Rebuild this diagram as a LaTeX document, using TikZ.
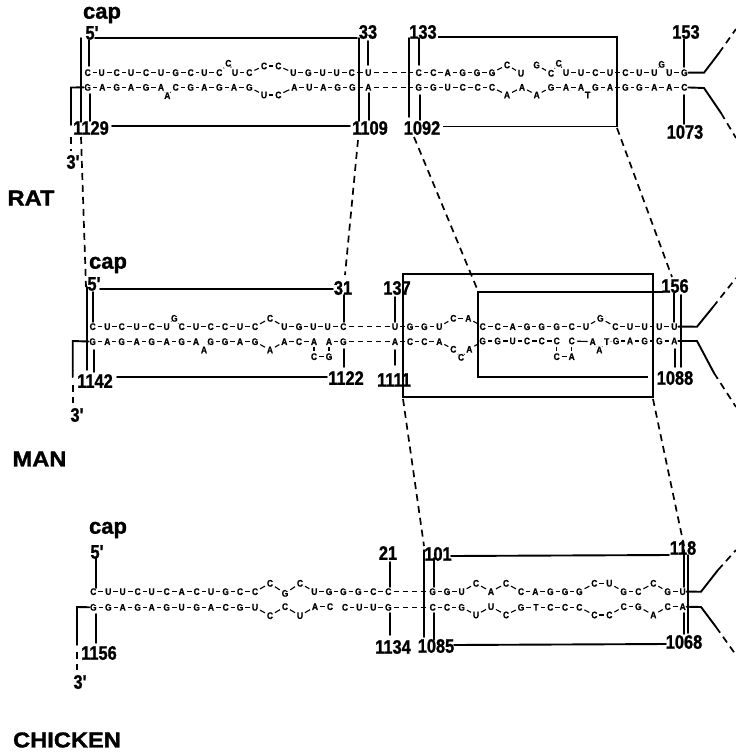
\documentclass[tikz,border=0pt]{standalone}
\usepackage{fontspec}
\setmainfont{Liberation Sans}
\newfontfamily\labf{Liberation Sans}[BoldFeatures={FakeStretch=0.84,FakeBold=1.2}]
\newfontfamily\capf{Liberation Sans}[BoldFeatures={FakeBold=1.2}]
\newfontfamily\hdf{Liberation Sans}[BoldFeatures={FakeStretch=1.1,FakeBold=1.4}]
\newfontfamily\ntf{Liberation Sans}[BoldFeatures={FakeStretch=0.88,FakeBold=0.8}]
\tikzset{
  nt/.style={font=\ntf\bfseries\fontsize{9.6}{10}\selectfont,inner sep=0.7pt,anchor=center},
  lk/.style={line width=1.1pt,shorten >=1.2pt,shorten <=1.2pt},
  lab/.style={font=\labf\bfseries\fontsize{19.5}{20}\selectfont,inner sep=0pt,anchor=center},
  capl/.style={font=\capf\bfseries\fontsize{22}{22}\selectfont,inner sep=0pt,anchor=center},
  spc/.style={font=\hdf\bfseries\fontsize{21.5}{22}\selectfont,inner sep=0pt,anchor=center},
  ln/.style={line width=1.9pt,line cap=round},
  bx/.style={line width=1.9pt,line join=miter},
  dsh/.style={line width=1.7pt,dash pattern=on 7pt off 5pt},
  hdsh/.style={line width=1.2pt,dash pattern=on 5pt off 4pt,shorten >=1.5pt,shorten <=1.5pt}
}
\newcommand\strand[4]{%
  \foreach \xx/\yy/\nn [count=\ii] in {#4}{%
    \node[nt] (#1\ii) at ({#2+\xx/3},{#3+\yy/3}) {\nn};
    \ifnum\ii>1 \pgfmathtruncatemacro\prevn{\ii-1}\draw[lk] (#1\prevn) -- (#1\ii);\fi
  }}
\newcommand\seg[5]{%
  \coordinate (#1a) at (#2,#3); \coordinate (#1b) at (#4,#5);
  \draw[ln] (#1a) -- (#1b);}
\begin{document}
\begin{tikzpicture}[x=1pt,y=-1pt]
\useasboundingbox (0,0) rectangle (736,755);

% ================= RAT =================
\strand{ra}{60}{0}{83/218/C,125/218/U,170/218/C,213/218/U,258/218/C,303/218/U,347/218/G,392/218/C,433/218/U,478/218/C,505/190/C,525/218/U,568/218/C,612/198/C,655/198/C,700/218/U,745/218/G,788/218/U,830/218/U,875/218/C,925/218/U}
\strand{rb}{60}{0}{83/262/G,127/262/A,170/262/G,213/262/A,258/262/G,303/262/A,322/287/A,347/262/C,392/262/G,433/262/A,478/262/G,522/262/A,568/262/G,612/285/U,655/285/C,703/262/A,748/262/U,790/262/A,833/262/G,877/262/G,925/262/A}
\strand{rc}{396}{0}{68/218/C,112/218/C,155/218/A,200/218/G,243/218/G,288/218/G,333/195/C,375/220/U}
\strand{rd}{396}{0}{422/195/G,465/220/C,488/190/C,510/218/U,555/218/U,598/218/C,642/218/U,688/218/C,730/218/U,775/218/U,797/193/G,820/218/U,865/218/G}
\strand{re}{396}{0}{68/262/G,112/262/G,155/262/U,200/262/C,245/262/C,288/262/C,333/285/A,378/262/A,422/285/A,465/262/G,510/262/A,555/262/A,575/285/T,598/262/G,642/262/A,688/262/G,730/262/G,775/262/A,820/262/A,865/262/C}
\draw[hdsh] (ra21) -- (rc1);
\draw[hdsh] (rb21) -- (re1);

\node[capl] (rcap) at (102,15) {cap};
\node[lab] (r5) at (92,33) {5'};
\node[lab] (r33) at (368,32) {33};
\node[lab] (r133) at (423,32) {133};
\node[lab] (r153) at (686,32) {153};
\node[lab] (r1129) at (91,128) {1129};
\node[lab] (r1109) at (370,128) {1109};
\node[lab] (r1092) at (422,128) {1092};
\node[lab] (r1073) at (685,132) {1073};
\node[lab] (r3) at (73,162) {3'};
\node[spc] (rat) at (31,198) {RAT};

\seg{r1}{80.7}{38}{80.7}{122}
\seg{r2}{89.3}{40}{89.3}{66}
\seg{r3l}{90}{94}{90}{121}
\seg{r4}{359}{38}{359}{121}
\seg{r5l}{368}{41}{368}{65}
\seg{r6}{369}{93}{369}{120}
\seg{r7}{409}{38}{409}{117}
\seg{r8}{419}{38}{419}{65}
\seg{r9}{420}{95}{420}{120}
\seg{r10}{684}{39}{684}{67}
\seg{r11}{684}{95}{684}{124}
\coordinate (rt1) at (95,37.7); \coordinate (rt2) at (357,37.7);
\draw[ln] (rt1) -- (rt2);
\coordinate (rb1c) at (112,126); \coordinate (rb2c) at (350,126);
\draw[ln] (rb1c) -- (rb2c);
\coordinate (rx1) at (438,37); \coordinate (rx2) at (617,37); \coordinate (rx3) at (617,126.5); \coordinate (rx4) at (443,126.5);
\draw[bx] (rx1) -- (rx2) -- (rx3) -- (rx4);
% 3' tail
\coordinate (rq1) at (71,87.5); \coordinate (rq2) at (71,125); \coordinate (rq3) at (71,137); \coordinate (rq4) at (71,151);
\draw[ln] (rb1) -- (rq1) -- (rq2);
\draw[dsh] (rq3) -- (rq4);
% exits
\coordinate (ru1) at (704,72.7); \coordinate (ru2) at (719,53); \coordinate (ru3) at (736,29);
\draw[ln] (rd13) -- (ru1) -- (ru2); \draw[dsh] (ru2) -- (ru3);
\coordinate (rv1) at (704,88); \coordinate (rv2) at (721,113); \coordinate (rv3) at (736,138);
\draw[ln] (re20) -- (rv1) -- (rv2); \draw[dsh] (rv2) -- (rv3);

% connectors rat -> man
\coordinate (c1a) at (81,137); \coordinate (c1b) at (86,287);
\draw[dsh] (c1a) -- (c1b);
\coordinate (c2a) at (358,140); \coordinate (c2b) at (345,275);
\draw[dsh] (c2a) -- (c2b);
\coordinate (c3a) at (414,137); \coordinate (c3b) at (478,291);
\draw[dsh] (c3a) -- (c3b);
\coordinate (c4a) at (617,128); \coordinate (c4b) at (672,277);
\draw[dsh] (c4a) -- (c4b);

% ================= MAN =================
\strand{ma}{60}{250}{98/230/C,142/230/U,185/230/C,230/230/U,275/230/C,320/230/U,343/205/G,365/230/C,408/230/U,452/230/C,495/230/C,540/230/U,585/230/C,630/205/C,673/230/U,717/230/G,760/230/U,803/230/U,850/230/C}
\strand{mb}{60}{250}{98/275/G,142/275/A,185/275/G,230/275/A,275/275/G,320/275/A,365/275/G,408/275/A,432/300/A,452/275/G,495/275/G,540/275/A,585/275/G,630/300/A,673/275/A,717/275/C,762/275/A}
\strand{mc}{60}{250}{807/275/A,850/275/G}
\strand{md}{60}{250}{762/320/C,807/320/G}
\draw[lk] (mb17) -- (md1);
\draw[lk] (mc1) -- (md2);
\strand{me}{396}{260}{-3/200/U,42/200/G,85/200/G,130/200/U,172/175/C,217/175/A,260/200/C,305/200/C,350/200/A,393/200/G,437/200/G,482/200/G,527/200/C,570/200/U,613/175/G,658/200/C,702/200/U,746/200/U,790/200/U,835/200/U}
\strand{mf}{396}{260}{-3/245/A,42/245/C,85/245/C,130/245/A,172/268/C,195/292/C,220/268/A,260/243/G,305/243/G,350/243/U,393/243/C,437/243/C,482/243/C}
\strand{mg}{396}{260}{527/243/C,590/245/A,610/270/A,632/245/T,660/243/G,702/243/A,746/243/G,790/243/G,835/243/A}
\strand{mh}{396}{260}{482/290/C,527/290/A}
\draw[lk] (mf13) -- (mh1);
\draw[lk] (mg1) -- (mh2);
\draw[hdsh] (ma19) -- (me1);
\draw[hdsh] (mc2) -- (mf1);

\node[capl] (mcap) at (108,265) {cap};
\node[lab] (m5) at (94,284) {5'};
\node[lab] (m31) at (343,288) {31};
\node[lab] (m137) at (397,288) {137};
\node[lab] (m156) at (675,286) {156};
\node[lab] (m1142) at (95,381) {1142};
\node[lab] (m1122) at (346,378) {1122};
\node[lab] (m1111) at (394,380) {1111};
\node[lab] (m1088) at (675,378) {1088};
\node[lab] (m3) at (77,415) {3'};
\node[spc] (man) at (39.5,459) {MAN};

\seg{m1}{86.7}{287}{86.7}{370}
\seg{m2}{93}{292}{93}{322}
\seg{m3l}{94}{350}{94}{372}
\seg{m4}{344}{295}{344}{322}
\seg{m5l}{344}{349}{344}{367}
\seg{m6}{395}{297}{395}{322}
\seg{m7}{395}{365}{395}{350}
\seg{m8}{674}{293}{674}{322}
\seg{m9}{681}{295}{681}{367}
\seg{m10}{675}{349}{675}{367}
\coordinate (mt1) at (100,289); \coordinate (mt2) at (333,289);
\draw[ln] (mt1) -- (mt2);
\coordinate (mt3) at (117,377); \coordinate (mt4) at (327,377);
\draw[ln] (mt3) -- (mt4);
% outer box
\coordinate (mo1) at (403,274); \coordinate (mo2) at (653,274); \coordinate (mo3) at (653,397); \coordinate (mo4) at (403,397);
\draw[bx] (mo1) -- (mo2) -- (mo3) -- (mo4) -- cycle;
% inner box
\coordinate (mi1) at (663,292); \coordinate (mi2) at (478,292); \coordinate (mi3) at (478,377); \coordinate (mi4) at (648,377);
\draw[bx] (mi1) -- (mi2) -- (mi3) -- (mi4);
% 3' tail
\coordinate (mq1) at (72.7,341); \coordinate (mq2) at (72.7,377); \coordinate (mq3) at (72.7,385); \coordinate (mq4) at (72.7,403);
\draw[ln] (mb1) -- (mq1) -- (mq2);
\draw[dsh] (mq3) -- (mq4);
% exits
\coordinate (mu1) at (697,326.7); \coordinate (mu2) at (713,307); \coordinate (mu3) at (736,278);
\draw[ln] (me20) -- (mu1) -- (mu2); \draw[dsh] (mu2) -- (mu3);
\coordinate (mv1) at (697,341); \coordinate (mv2) at (714,373); \coordinate (mv3) at (736,407);
\draw[ln] (mg9) -- (mv1) -- (mv2); \draw[dsh] (mv2) -- (mv3);

% connectors man -> chicken
\coordinate (c5a) at (403,399); \coordinate (c5b) at (424,546);
\draw[dsh] (c5a) -- (c5b);
\coordinate (c6a) at (653,399); \coordinate (c6b) at (684,546);
\draw[dsh] (c6a) -- (c6b);

% ================= CHICKEN =================
\strand{ca}{60}{510}{100/245/C,145/245/U,188/245/U,233/245/C,275/245/U,320/245/C,365/245/A,410/245/C,453/245/U,497/245/G,540/245/C,585/245/C,630/220/C,675/250/G,720/220/C,763/245/U,807/245/G,850/245/G,895/245/G,940/245/C,985/245/C}
\strand{cb}{60}{510}{100/292/G,145/292/G,188/292/A,233/292/G,275/292/A,320/292/G,365/292/U,410/292/G,453/292/A,497/292/C,540/292/G,585/292/U,630/317/C,675/290/C,720/317/U,765/290/A,810/290/C}
\strand{cc}{60}{510}{855/292/C,898/292/U,940/292/U,985/292/G}
\strand{cd}{396}{530}{110/185/G,153/185/G,197/185/U,240/160/C,285/185/A,330/160/C,375/185/C,418/185/A,463/185/G,507/185/G,550/185/G,595/160/C,640/160/U,683/185/G,727/185/C,772/160/C,815/185/G,860/185/U}
\strand{ce}{396}{530}{110/232/C,153/232/C,197/232/G,240/255/U,285/230/U,330/255/C,375/232/G,420/232/T,463/232/C,507/232/C,550/232/C,595/255/C,640/255/C,683/230/C,727/230/G,772/255/A,815/230/C,860/230/A}
\draw[hdsh] (ca21) -- (cd1);
\draw[hdsh] (cc4) -- (ce1);

\node[capl] (ccap) at (108,530) {cap};
\node[lab] (c5) at (97,552) {5'};
\node[lab] (c21) at (388,553) {21};
\node[lab] (c101) at (438,554) {101};
\node[lab] (c118) at (683,548) {118};
\node[lab] (c1156) at (99,653) {1156};
\node[lab] (c1134) at (393,647) {1134};
\node[lab] (c1085) at (436,646) {1085};
\node[lab] (c1068) at (684,642) {1068};
\node[lab] (c3) at (80,682) {3'};
\node[spc] (chk) at (67,740) {CHICKEN};

\seg{k1}{96}{558}{96}{588}
\seg{k2}{96}{614}{96}{643}
\seg{k3}{390}{562}{390}{587}
\seg{k4}{390}{613}{390}{635}
\seg{k5}{424}{550}{424}{637}
\seg{k6}{434}{558}{434}{587}
\seg{k7}{434}{613}{434}{640}
\seg{k8}{684}{550}{684}{587}
\seg{k9}{684}{613}{684}{634}
\seg{k10}{688}{555}{688}{633}
\coordinate (kt1) at (451,556); \coordinate (kt2) at (669,555);
\draw[ln] (kt1) -- (kt2);
\coordinate (kt3) at (454,645); \coordinate (kt4) at (666,644);
\draw[ln] (kt3) -- (kt4);
% 3' tail
\coordinate (kq1) at (77,607); \coordinate (kq2) at (77,645); \coordinate (kq3) at (77,652); \coordinate (kq4) at (77,670);
\draw[ln] (cb1) -- (kq1) -- (kq2);
\draw[dsh] (kq3) -- (kq4);
% exits
\coordinate (ku1) at (701,591.7); \coordinate (ku2) at (718,570); \coordinate (ku3) at (736,550);
\draw[ln] (cd18) -- (ku1) -- (ku2); \draw[dsh] (ku2) -- (ku3);
\coordinate (kv1) at (701,607); \coordinate (kv2) at (716,627); \coordinate (kv3) at (736,655);
\draw[ln] (ce18) -- (kv1) -- (kv2); \draw[dsh] (kv2) -- (kv3);
\end{tikzpicture}
\end{document}
